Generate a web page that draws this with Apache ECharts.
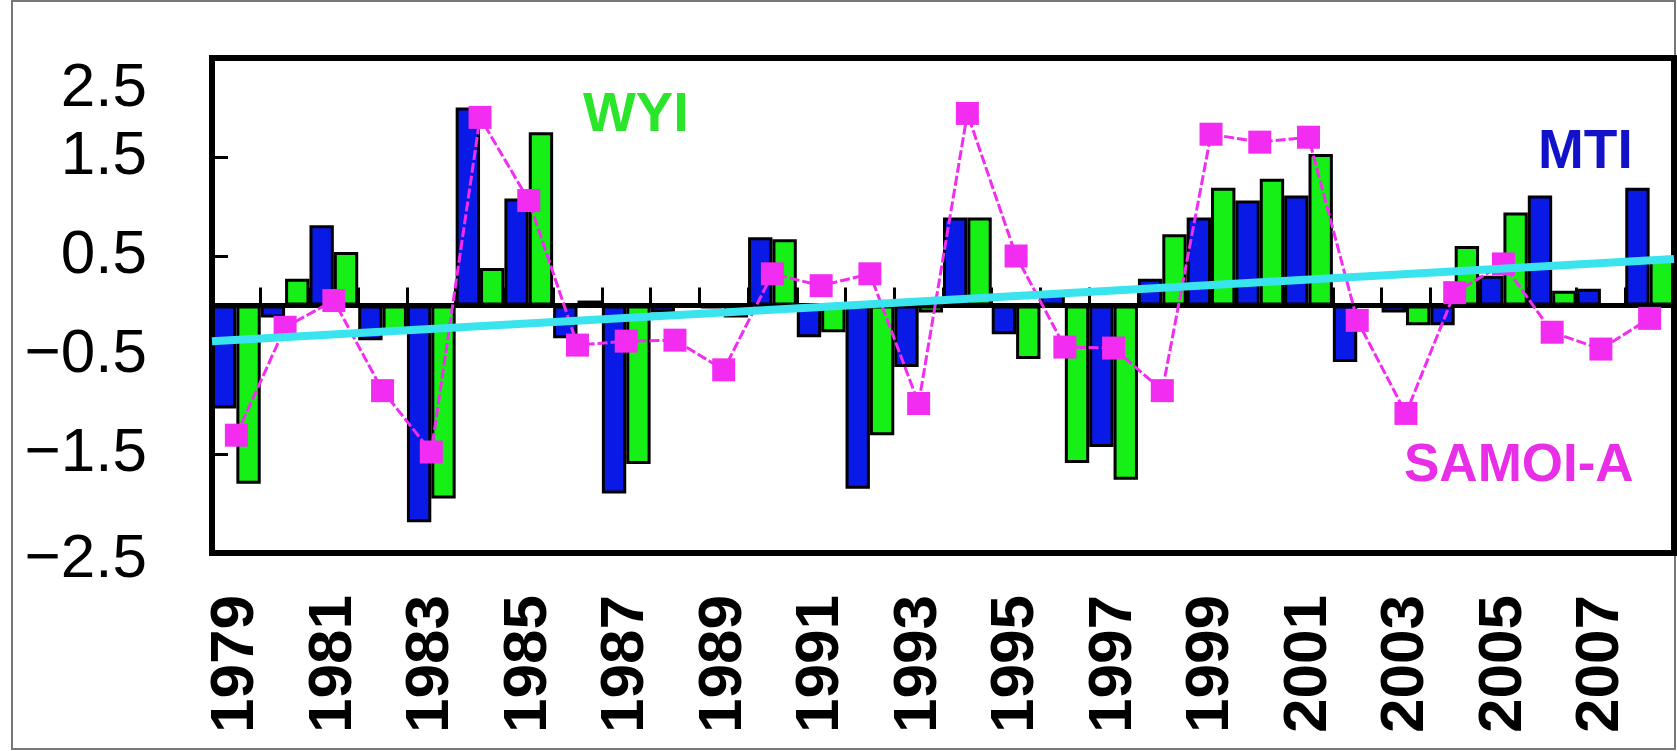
<!DOCTYPE html>
<html>
<head>
<meta charset="utf-8">
<script src="https://cdn.jsdelivr.net/npm/echarts@6/dist/echarts.min.js"></script>
<style>
  html, body { margin: 0; padding: 0; background: #fff; }
  #chart { width: 1677px; height: 751px; }
</style>
</head>
<body>
<div id="chart"></div>
<script>
// Years on the category axis
const years = ['1979','1980','1981','1982','1983','1984','1985','1986','1987','1988',
               '1989','1990','1991','1992','1993','1994','1995','1996','1997','1998',
               '1999','2000','2001','2002','2003','2004','2005','2006','2007','2008'];

// MTI index (blue bars)
const mti = [-1.04, -0.12, 0.81, -0.35, -2.19, 2.00, 1.08, -0.33, -1.90, -0.07,
             -0.03, 0.69, -0.32, -1.85, -0.62, 0.89, -0.29, 0.14, -1.43, 0.27,
             0.89, 1.06, 1.11, -0.57, -0.07, -0.20, 0.30, 1.11, 0.17, 1.19];

// WYI index (green bars)
const wyi = [-1.80, 0.27, 0.54, -0.28, -1.95, 0.38, 1.75, 0.05, -1.60, -0.02,
             -0.12, 0.67, -0.27, -1.31, -0.07, 0.89, -0.54, -1.59, -1.76, 0.72,
             1.19, 1.28, 1.53, 0.00, -0.20, 0.60, 0.94, 0.15, 0.00, 0.46];

// SAMOI-A index (magenta line with square markers)
const samoi = [-1.31, -0.22, 0.05, -0.86, -1.48, 1.90, 1.06, -0.40, -0.36, -0.35,
               -0.65, 0.32, 0.20, 0.32, -0.99, 1.94, 0.50, -0.42, -0.43, -0.86,
               1.73, 1.65, 1.70, -0.15, -1.09, 0.13, 0.42, -0.27, -0.44, -0.13];

// Linear trend: value at the start and at the end of the year span
const trendEnds = [-0.36, 0.47];

// Y axis tick values
const yTicks = [-2.5, -1.5, -0.5, 0.5, 1.5, 2.5];

const FONT = "'Liberation Sans', Arial, Helvetica, sans-serif";

function fmtTick(v) {
  const s = Math.abs(v).toFixed(1);
  return v < 0 ? '\u2212' + s : s;
}

const chart = echarts.init(document.getElementById('chart'), null, { renderer: 'canvas' });

const labelBase = { fontFamily: FONT, fontSize: 62, color: '#000' };

const option = {
  backgroundColor: '#fff',
  animation: false,
  grid: {
    left: 212, top: 58, width: 1462, height: 495,
    show: true, borderColor: '#000', borderWidth: 6,
    backgroundColor: 'transparent'
  },
  xAxis: [
    {
      // labels along the bottom of the frame
      type: 'category', data: years, position: 'bottom',
      boundaryGap: true,
      axisLine: { show: false, onZero: false },
      axisTick: { show: false },
      axisLabel: {
        interval: 1, rotate: 90, margin: 42,
        fontFamily: FONT, fontSize: 62, fontWeight: 'bold', color: '#000'
      },
      splitLine: { show: false }
    },
    {
      // zero line with upward ticks between years
      type: 'category', data: years, position: 'bottom',
      boundaryGap: true,
      axisLine: { show: true, onZero: true, lineStyle: { color: '#000', width: 5 } },
      axisTick: { show: true, inside: true, interval: 0, length: 18,
                  lineStyle: { color: '#000', width: 3 } },
      axisLabel: { show: false },
      splitLine: { show: false }
    },
    {
      // continuous span used by the trend line
      type: 'value', min: 0, max: years.length, show: false,
      axisLine: { onZero: false }
    }
  ],
  yAxis: [
    {
      type: 'value', min: -2.5, max: 2.5,
      axisLine: { show: false, onZero: false },
      axisTick: { show: true, inside: true, length: 16, customValues: yTicks,
                  lineStyle: { color: '#000', width: 3 } },
      axisLabel: {
        customValues: yTicks,
        margin: 65,
        fontFamily: FONT, fontSize: 62, color: '#000',
        verticalAlignMaxLabel: 'top',
        formatter: function (v) {
          const s = fmtTick(v);
          if (v === -2.5) return '{lo|' + s + '}';
          return s;
        },
        rich: {
          lo: Object.assign({ padding: [14, 0, 0, 0] }, labelBase)
        }
      },
      splitLine: { show: false }
    }
  ],
  series: [
    {
      name: 'MTI', type: 'bar', xAxisIndex: 0, yAxisIndex: 0,
      data: mti,
      barGap: '0%', barCategoryGap: '0%',
      itemStyle: { color: '#0a1ae6', borderColor: '#000', borderWidth: 3 },
      z: 2
    },
    {
      name: 'WYI', type: 'bar', xAxisIndex: 0, yAxisIndex: 0,
      data: wyi,
      barGap: '0%', barCategoryGap: '0%',
      itemStyle: { color: '#16f016', borderColor: '#000', borderWidth: 3 },
      z: 2
    },
    {
      name: 'SAMOI-A', type: 'line', xAxisIndex: 0, yAxisIndex: 0,
      data: samoi,
      symbol: 'rect', symbolSize: 23,
      lineStyle: { color: '#f22cf0', width: 3, type: [10, 3] },
      itemStyle: { color: '#f22cf0' },
      z: 3
    },
    {
      name: 'trend', type: 'line', xAxisIndex: 2, yAxisIndex: 0,
      data: [[0, trendEnds[0]], [years.length, trendEnds[1]]],
      symbol: 'none',
      lineStyle: { color: '#3ae4ef', width: 8 },
      z: 4
    }
  ],
  graphic: [
    {
      // thin outer frame of the figure
      type: 'rect', silent: true, z: -1,
      shape: { x: 12, y: 1, width: 1663, height: 748 },
      style: { fill: 'none', stroke: '#777', lineWidth: 2 }
    },
    {
      type: 'text', left: 583, top: 88, z: 10,
      style: { text: 'WYI', fill: '#2be52b', font: "bold 56px " + FONT }
    },
    {
      type: 'text', left: 1538, top: 125, z: 10,
      style: { text: 'MTI', fill: '#1212c8', font: "bold 55px " + FONT }
    },
    {
      type: 'text', left: 1404, top: 440, z: 10,
      style: { text: 'SAMOI-A', fill: '#e82ee6', font: "bold 53px " + FONT }
    }
  ]
};

chart.setOption(option);
</script>
</body>
</html>
